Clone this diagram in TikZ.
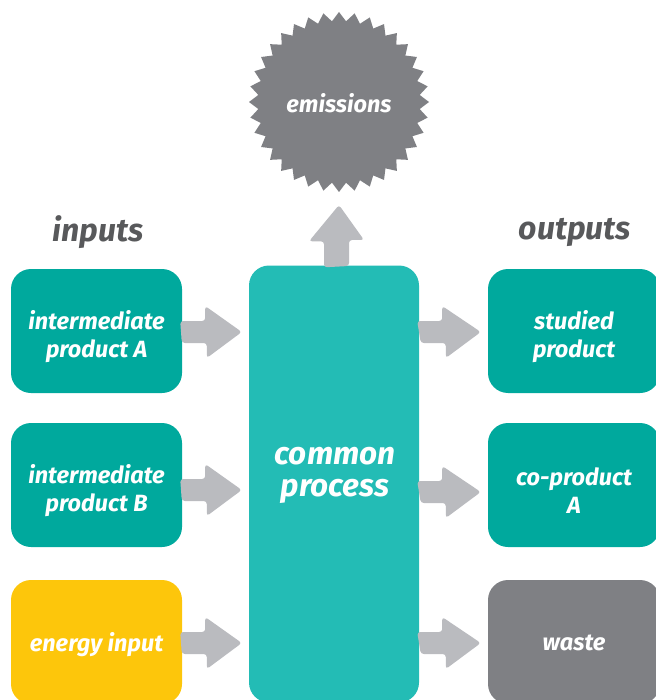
\documentclass[tikz,border=0pt]{standalone}
\usepackage{fontspec}
\setmainfont{Fira Sans}
\usetikzlibrary{calc}
\definecolor{teal1}{HTML}{00A99D}
\definecolor{teal2}{HTML}{23BCB5}
\definecolor{yel}{HTML}{FDC60B}
\definecolor{grey1}{HTML}{7F8084}
\definecolor{arrowc}{HTML}{BABBBF}
\definecolor{headc}{HTML}{58595B}
\tikzset{
  box/.style={fill=#1, rounded corners=20pt, minimum width=171pt, minimum height=124pt, inner sep=0pt},
  btext/.style={text=white, align=center, font=\bfseries\itshape\fontsize{23.5}{28}\selectfont, inner sep=0pt},
  head/.style={text=headc, font=\bfseries\itshape\fontsize{32}{34}\selectfont},
  blockarrow/.style={fill=arrowc, rounded corners=3pt},
}
\begin{document}
\begin{tikzpicture}[x=1pt,y=-1pt]
\useasboundingbox (0,0) rectangle (655,700);
% star
\fill[grey1] (339,102) ++(0:90) \foreach \i in {1,...,71} { -- ($(339,102)+({\i*5}:{90-9*mod(\i,2)})$) } -- cycle;
\node[text=white, font=\bfseries\itshape\fontsize{23.5}{26}\selectfont] (em) at (339,103) {emissions};
% headings
\node[head] (inp) at (98,232) {inputs};
\node[head] (outp) at (575,232) {outputs};
% boxes
\node[box=teal1] (ia) at (96.5,331) {};
\node[box=teal1] (ib) at (96.5,485) {};
\node[box=yel] (en) at (96.5,642) {};
\node[box=teal2, minimum width=170pt, minimum height=437pt] (cp) at (334,484) {};
\node[box=teal1, minimum width=172pt] (sp) at (574,331) {};
\node[box=teal1, minimum width=172pt] (co) at (574,485) {};
\node[box=grey1, minimum width=172pt] (wa) at (574,642) {};
% texts
\node[btext] (iat) at ($(ia.center)+(0,6)$) {intermediate\\product A};
\node[btext] (ibt) at ($(ib.center)+(0,6)$) {intermediate\\product B};
\node[btext] (ent) at ($(en.center)+(0,3)$) {energy input};
\node[btext, font=\bfseries\itshape\fontsize{31.5}{32}\selectfont] (cpt) at (335,475) {common\\process};
\node[btext] (spt) at ($(sp.center)+(0,6)$) {studied\\product};
\node[btext] (cot) at ($(co.center)+(0,6)$) {co-product\\A};
\node[btext] (wat) at ($(wa.center)+(0,1)$) {waste};
% right arrows
\foreach \a/\b/\y in {ia/cp/332, ib/cp/490, en/cp/643, cp/sp/332, cp/co/492, cp/wa/643}{
  \fill[blockarrow] (\a.east |- 0,\y) ++(-2,-11) -- ++(25,0) -- ++(0,-15)
    -- ($(\b.west |- 0,\y)+(-7,0)$) -- ++(-35,26) -- ++(0,-15) -- ++(-25,0) -- cycle;
}
% up arrow
\fill[blockarrow] ($(cp.north)+(-10,2)$) -- ++(0,-26) -- ++(-15,0) -- ($(em.center)+(0,102)$)
  -- ++(25,35) -- ++(-15,0) -- ++(0,26) -- cycle;
\end{tikzpicture}
\end{document}
